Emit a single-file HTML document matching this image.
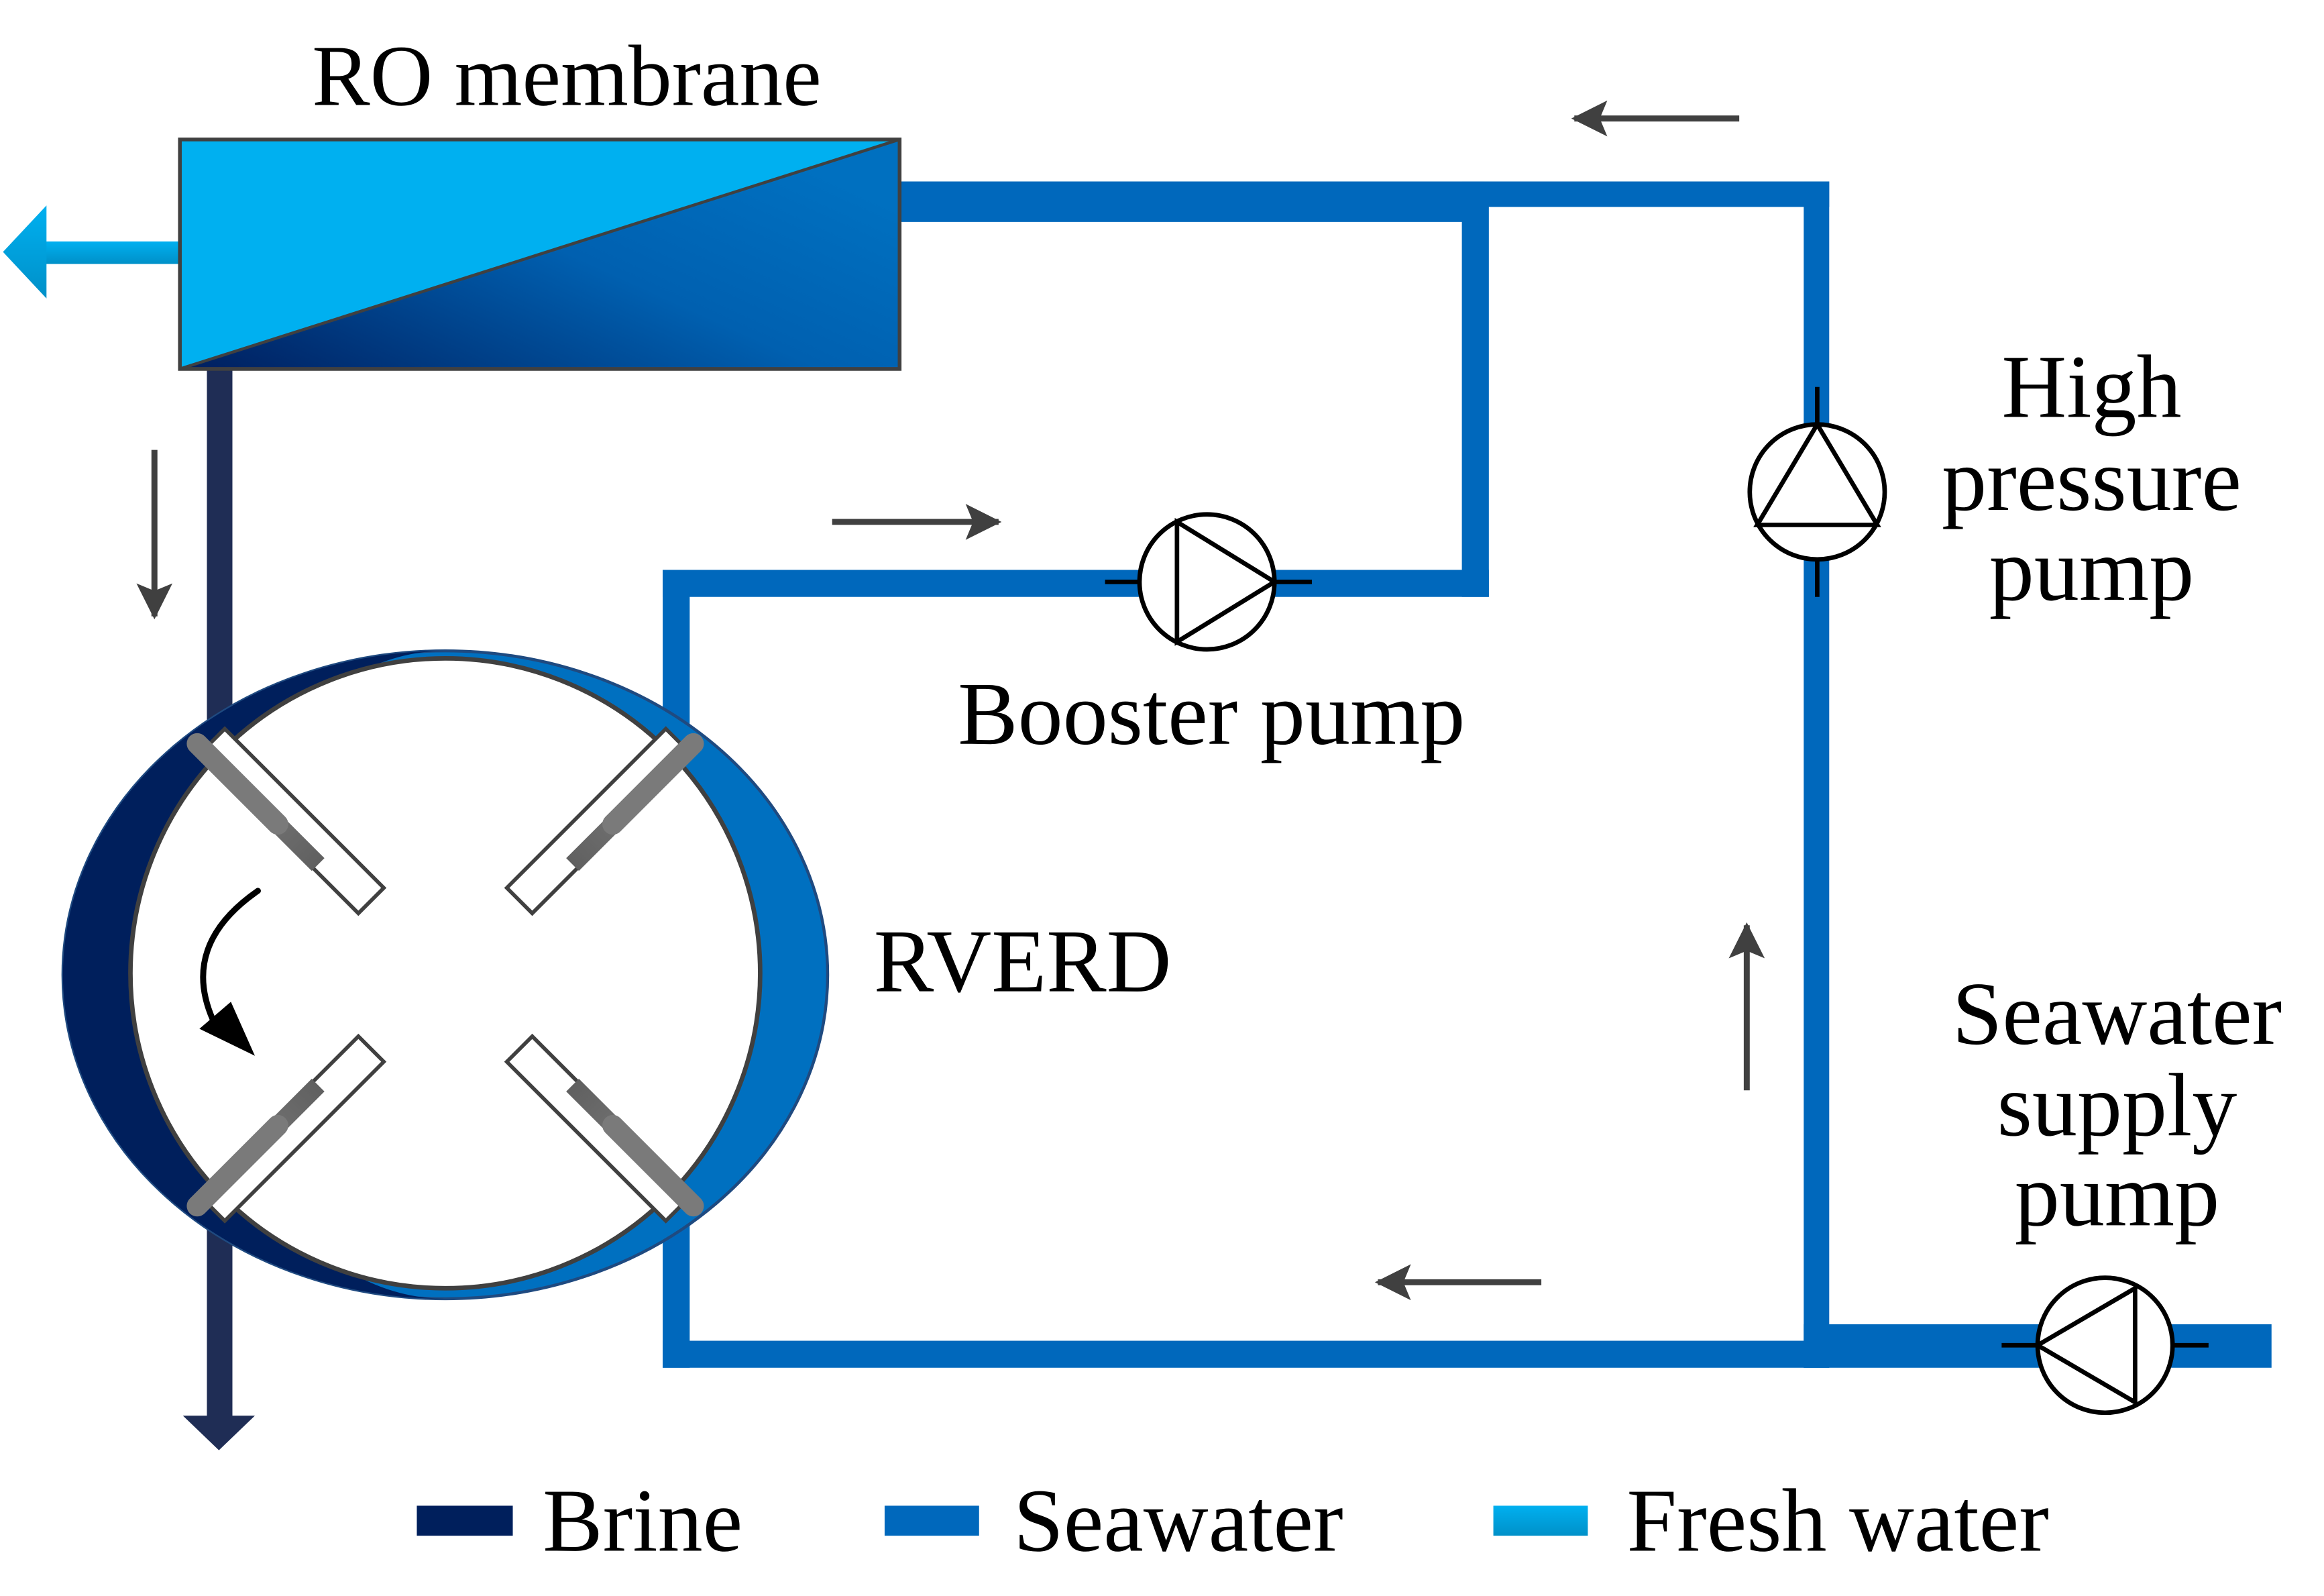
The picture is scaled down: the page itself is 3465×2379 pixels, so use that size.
<!DOCTYPE html>
<html><head><meta charset="utf-8"><style>html,body{margin:0;padding:0;background:#fff}svg{display:block}</style></head>
<body>
<svg width="3465" height="2379" viewBox="0 0 1550 1064.2" preserveAspectRatio="none" xmlns="http://www.w3.org/2000/svg" font-family="Liberation Serif, serif">
<defs>
<linearGradient id="dg" x1="0" y1="1" x2="1" y2="0.3">
<stop offset="0" stop-color="#001E5E"/><stop offset="0.6" stop-color="#0060B0"/><stop offset="1" stop-color="#0070C0"/></linearGradient>
<linearGradient id="fw" x1="0" y1="0" x2="0" y2="1"><stop offset="0" stop-color="#00B0F0"/><stop offset="1" stop-color="#0090C8"/></linearGradient>
<linearGradient id="gb" x1="0" y1="0" x2="1" y2="0"><stop offset="0" stop-color="#606060"/><stop offset="1" stop-color="#8a8a8a"/></linearGradient>
<marker id="ah" markerWidth="24" markerHeight="24" refX="22" refY="12" orient="auto" markerUnits="userSpaceOnUse" viewBox="0 0 24 24"><path d="M0,0 L24,12 L0,24 L5,12 Z" fill="#404040"/></marker>
</defs>
<rect width="1550" height="1064.2" fill="#fff"/>
<text x="378" y="70" font-size="58" text-anchor="middle">RO membrane</text>
<rect x="30" y="161" width="92" height="15" fill="url(#fw)"/>
<path d="M2,168 L31,137 L31,199 Z" fill="url(#fw)"/>
<g fill="#0068BC">
<rect x="600" y="121" width="390" height="27"/>
<rect x="975" y="121" width="245" height="17"/>
<rect x="975" y="121" width="18" height="277"/>
<rect x="442" y="380" width="551" height="18"/>
<rect x="442" y="380" width="18" height="120"/>
<rect x="442" y="800" width="18" height="112"/>
<rect x="442" y="894" width="778" height="18"/>
<rect x="1203" y="121" width="17" height="791"/>
<rect x="1203" y="883" width="312" height="29"/>
</g>
<rect x="138" y="246" width="17" height="700" fill="#1F2D55"/>
<path d="M122,944 L170,944 L146,967 Z" fill="#1F2D55"/>
<rect x="120" y="93" width="480" height="153" fill="#00B0F0"/>
<path d="M120,246 L600,93 L600,246 Z" fill="url(#dg)"/>
<line x1="120" y1="246" x2="600" y2="93" stroke="#404040" stroke-width="2"/>
<rect x="120" y="93" width="480" height="153" fill="none" stroke="#404040" stroke-width="2.5"/>
<ellipse cx="297" cy="650" rx="255" ry="216" fill="#0070C0" stroke="#1F4A80" stroke-width="2"/>
<path d="M297,434 A255,216 0 0 0 297,866 A160,216 0 0 1 297,434 Z" fill="#001F5C"/>
<circle cx="297" cy="649" r="210" fill="#fff" stroke="#404040" stroke-width="3"/>
<g transform="translate(297,650)">
<g transform="rotate(225)"><rect x="70" y="-12" width="150" height="24" fill="#fff" stroke="#404040" stroke-width="2.5"/><path d="M112,-2 L228,-2 L228,-14 L112,-14 Z" fill="url(#gb)"/><line x1="150" y1="-8" x2="226" y2="-8" stroke="#7a7a7a" stroke-width="14" stroke-linecap="round"/></g>
<g transform="rotate(315)"><rect x="70" y="-12" width="150" height="24" fill="#fff" stroke="#404040" stroke-width="2.5"/><path d="M112,2 L228,2 L228,14 L112,14 Z" fill="url(#gb)"/><line x1="150" y1="8" x2="226" y2="8" stroke="#7a7a7a" stroke-width="14" stroke-linecap="round"/></g>
<g transform="rotate(135)"><rect x="70" y="-12" width="150" height="24" fill="#fff" stroke="#404040" stroke-width="2.5"/><path d="M112,2 L228,2 L228,14 L112,14 Z" fill="url(#gb)"/><line x1="150" y1="8" x2="226" y2="8" stroke="#7a7a7a" stroke-width="14" stroke-linecap="round"/></g>
<g transform="rotate(45)"><rect x="70" y="-12" width="150" height="24" fill="#fff" stroke="#404040" stroke-width="2.5"/><path d="M112,-2 L228,-2 L228,-14 L112,-14 Z" fill="url(#gb)"/><line x1="150" y1="-8" x2="226" y2="-8" stroke="#7a7a7a" stroke-width="14" stroke-linecap="round"/></g>
</g>
<path d="M172,594 Q120,630 142,680" fill="none" stroke="#000" stroke-width="4" stroke-linecap="round"/>
<path d="M133,686 L170,704 L154,668 Z" fill="#000"/>
<g stroke="#000" stroke-width="3" fill="#fff">
<line x1="737" y1="388" x2="875" y2="388"/>
<circle cx="805" cy="388" r="45"/>
<path d="M785,348 L850,388 L785,428 Z" fill="none"/>
<line x1="1212" y1="258" x2="1212" y2="398"/>
<circle cx="1212" cy="328" r="45"/>
<path d="M1212,283 L1252,350 L1172,350 Z" fill="none"/>
<line x1="1335" y1="897" x2="1473" y2="897"/>
<circle cx="1404" cy="897" r="45"/>
<path d="M1359,897 L1424,859 L1424,935 Z" fill="none"/>
</g>
<g stroke="#404040" stroke-width="4" marker-end="url(#ah)">
<line x1="1160" y1="79" x2="1050" y2="79"/>
<line x1="555" y1="348" x2="666" y2="348"/>
<line x1="103" y1="300" x2="103" y2="411"/>
<line x1="1165" y1="727" x2="1165" y2="617"/>
<line x1="1028" y1="855" x2="919" y2="855"/>
</g>
<g font-size="60" text-anchor="middle">
<text x="1395" y="278">High</text><text x="1395" y="340">pressure</text><text x="1395" y="400">pump</text>
<text x="808" y="496">Booster pump</text>
<text x="682" y="661">RVERD</text>
<text x="1412" y="696">Seawater</text><text x="1412" y="757">supply</text><text x="1412" y="817">pump</text>
</g>
<rect x="278" y="1004" width="64" height="20" fill="#001F5C"/>
<rect x="590" y="1004" width="63" height="20" fill="#0068BC"/>
<rect x="996" y="1004" width="63" height="20" fill="url(#fw)"/>
<g font-size="60"><text x="362" y="1034">Brine</text><text x="676" y="1034">Seawater</text><text x="1085" y="1034">Fresh water</text></g>
</svg>
</body></html>
